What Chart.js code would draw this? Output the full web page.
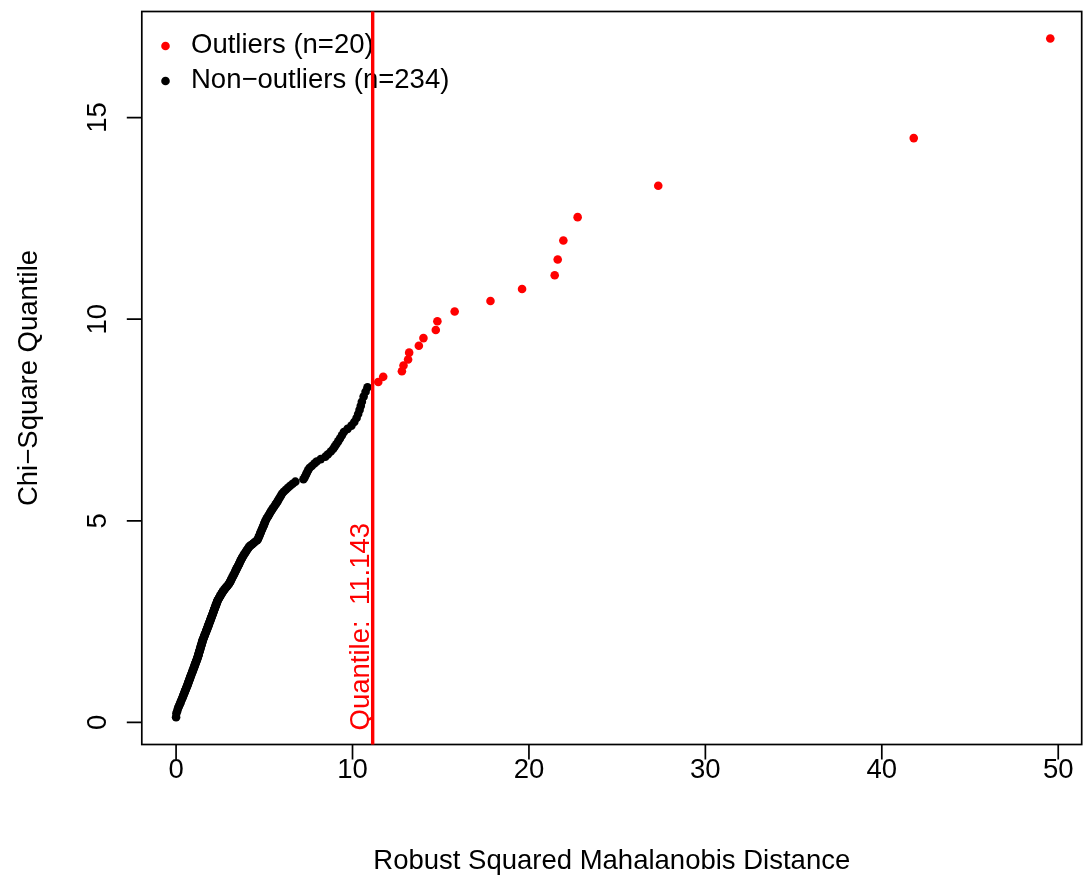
<!DOCTYPE html>
<html><head><meta charset="utf-8">
<script src="https://cdn.jsdelivr.net/npm/chart.js@4"></script>
<style>html,body{margin:0;padding:0;background:#fff;overflow:hidden}canvas{display:block}</style>
</head><body>
<canvas id="c" width="1086" height="879"></canvas>
<script>
// ---- data ----
const nonOutlierX = [
  0.00,0.02,0.07,0.11,0.16,0.21,0.25,
  0.28,0.32,0.36,0.39,0.42,0.45,0.48,0.50,0.53,0.56,0.58,0.60,0.63,0.65,0.67,0.69,
  0.71,0.73,0.76,0.77,0.80,0.81,0.83,0.86,0.87,0.90,0.92,0.93,0.96,0.98,1.00,1.02,1.04,1.06,1.08,1.10,1.12,
  1.14,1.15,1.17,1.20,1.21,1.23,1.24,1.26,1.27,1.28,1.30,1.32,1.33,1.34,1.36,1.37,1.39,1.40,1.42,1.43,1.44,1.46,1.48,
  1.49,1.50,1.52,1.54,1.56,1.58,1.60,1.62,1.63,1.65,1.68,1.70,1.71,1.73,1.75,1.77,1.79,1.81,1.83,1.84,1.86,1.88,1.90,
  1.92,1.94,1.96,1.98,2.00,2.01,2.04,2.06,2.07,2.10,2.11,2.13,2.15,2.17,2.19,2.21,2.23,2.25,2.27,2.28,2.31,2.33,
  2.34,2.36,2.40,2.43,2.47,2.49,2.52,2.56,2.59,2.63,2.66,2.69,2.75,2.78,2.84,2.88,2.91,2.97,3.00,3.04,3.07,
  3.09,3.12,3.16,3.19,3.23,3.25,3.29,3.32,3.35,3.39,3.41,3.44,3.48,3.51,3.55,3.57,3.60,3.63,
  3.67,3.70,3.74,3.77,3.82,3.86,3.91,3.95,4.01,4.06,4.10,4.15,4.23,4.32,4.40,4.48,
  4.60,4.64,4.68,4.71,4.75,4.78,4.81,4.85,4.88,4.92,4.96,4.99,5.02,5.05,
  5.09,5.14,5.20,5.25,5.32,5.37,5.43,5.49,5.55,5.63,5.69,5.75,
  5.80,5.87,5.94,6.00,6.10,6.22,6.34,6.47,6.61,6.76,
  7.22,7.29,7.36,7.41,7.48,7.56,7.69,7.84,7.97,
  8.20,8.46,8.61,8.77,8.90,8.99,9.08,9.19,
  9.29,9.40,9.51,9.72,9.94,10.10,
  10.23,10.32,10.40,10.47,10.53,
  10.63,10.74,10.85
];
const nonOutlierY = [
  0.13,0.23,0.29,0.35,0.40,0.45,0.49,
  0.53,0.57,0.61,0.64,0.68,0.71,0.74,0.77,0.80,0.83,0.86,0.88,0.91,0.93,0.96,0.98,
  1.01,1.03,1.06,1.08,1.11,1.13,1.15,1.18,1.20,1.23,1.25,1.27,1.30,1.32,1.35,1.37,1.39,1.42,1.44,1.47,1.49,
  1.51,1.53,1.55,1.58,1.60,1.62,1.64,1.66,1.68,1.70,1.73,1.75,1.77,1.79,1.81,1.83,1.86,1.88,1.90,1.92,1.94,1.96,1.99,
  2.01,2.03,2.05,2.07,2.10,2.12,2.14,2.16,2.18,2.20,2.23,2.25,2.27,2.29,2.31,2.33,2.36,2.38,2.40,2.42,2.44,2.46,2.49,
  2.51,2.53,2.56,2.58,2.60,2.62,2.65,2.67,2.69,2.72,2.74,2.76,2.78,2.81,2.83,2.85,2.88,2.90,2.92,2.94,2.97,2.99,
  3.01,3.03,3.06,3.08,3.11,3.13,3.15,3.18,3.20,3.23,3.25,3.27,3.30,3.32,3.35,3.37,3.39,3.42,3.44,3.47,3.49,
  3.51,3.54,3.57,3.60,3.63,3.65,3.68,3.71,3.74,3.77,3.79,3.82,3.85,3.88,3.91,3.93,3.96,3.99,
  4.02,4.05,4.08,4.11,4.14,4.17,4.20,4.23,4.27,4.30,4.33,4.36,4.39,4.42,4.45,4.48,
  4.52,4.55,4.59,4.62,4.66,4.70,4.73,4.77,4.80,4.84,4.88,4.91,4.95,4.98,
  5.02,5.06,5.10,5.14,5.19,5.23,5.27,5.31,5.35,5.40,5.44,5.48,
  5.52,5.57,5.62,5.67,5.72,5.77,5.82,5.87,5.92,5.97,
  6.03,6.08,6.14,6.19,6.25,6.31,6.36,6.42,6.47,
  6.53,6.59,6.65,6.72,6.78,6.84,6.90,6.97,
  7.04,7.12,7.20,7.28,7.36,7.45,
  7.55,7.65,7.75,7.85,7.95,
  8.08,8.20,8.31
];
const outlierX = [11.46,11.74,12.80,12.89,13.15,13.21,13.76,14.02,14.72,14.81,15.79,17.82,19.61,21.46,21.63,21.95,22.76,27.33,41.81,49.55];
const outlierY = [8.44,8.57,8.71,8.85,9.00,9.17,9.34,9.53,9.73,9.95,10.19,10.45,10.75,11.09,11.48,11.95,12.53,13.31,14.49,16.96];
const xTicks = [0,10,20,30,40,50];
const yTicks = [0,5,10,15];
const cutoffValue = 11.143;
const cutoffLabel = 'Quantile:  11.143';
const legendLabels = ['Outliers (n=20)', 'Non\u2212outliers (n=234)'];
const legendColors = ['#ff0000', '#000000'];
const xTitle = 'Robust Squared Mahalanobis Distance';
const yTitle = 'Chi\u2212Square Quantile';

const FONT = '27.5px "Liberation Sans", Arial, Helvetica, sans-serif';
const PR = 4.3;
const toPts = (xs, ys) => xs.map((v, i) => ({x: v, y: ys[i]}));

const decor = {
  id: 'decor',
  afterDatasetsDraw(chart) {
    const {ctx, chartArea: a, scales: {x, y}} = chart;
    ctx.save();
    ctx.strokeStyle = '#000'; ctx.lineWidth = 1.7; ctx.lineCap = 'butt';
    ctx.strokeRect(a.left, a.top, a.right - a.left, a.bottom - a.top);
    ctx.beginPath();
    xTicks.forEach(v => { const px = x.getPixelForValue(v); ctx.moveTo(px, a.bottom); ctx.lineTo(px, a.bottom + 15); });
    yTicks.forEach(v => { const py = y.getPixelForValue(v); ctx.moveTo(a.left, py); ctx.lineTo(a.left - 15, py); });
    ctx.stroke();

    ctx.font = FONT; ctx.fillStyle = '#000';
    ctx.textAlign = 'center'; ctx.textBaseline = 'alphabetic';
    xTicks.forEach(v => ctx.fillText(String(v), x.getPixelForValue(v), a.bottom + 33));
    yTicks.forEach(v => {
      ctx.save(); ctx.translate(a.left - 36, y.getPixelForValue(v)); ctx.rotate(-Math.PI / 2);
      ctx.fillText(String(v), 0, 0); ctx.restore();
    });
    ctx.fillText(xTitle, (a.left + a.right) / 2, 869);
    ctx.save(); ctx.translate(37, (a.top + a.bottom) / 2); ctx.rotate(-Math.PI / 2);
    ctx.fillText(yTitle, 0, 0); ctx.restore();

    // legend
    ctx.textAlign = 'left';
    legendLabels.forEach((t, i) => {
      const cy = 46 + i * 35;
      ctx.fillStyle = legendColors[i];
      ctx.beginPath(); ctx.arc(165.5, cy, PR, 0, Math.PI * 2); ctx.fill();
      ctx.fillStyle = '#000';
      ctx.fillText(t, 191, cy + 7);
    });

    // cutoff line + label
    const cx = x.getPixelForValue(cutoffValue);
    ctx.strokeStyle = '#ff0000'; ctx.lineWidth = 3.4;
    ctx.beginPath(); ctx.moveTo(cx, a.top); ctx.lineTo(cx, a.bottom); ctx.stroke();
    ctx.fillStyle = '#ff0000';
    ctx.save(); ctx.translate(cx - 4, y.getPixelForValue(0) + 8); ctx.rotate(-Math.PI / 2);
    ctx.fillText(cutoffLabel, 0, 0); ctx.restore();
    ctx.restore();
  }
};

new Chart(document.getElementById('c'), {
  type: 'scatter',
  data: {
    datasets: [
      {label: legendLabels[1], data: toPts(nonOutlierX, nonOutlierY), backgroundColor: '#000000', borderWidth: 0, pointRadius: PR, pointHoverRadius: PR},
      {label: legendLabels[0], data: toPts(outlierX, outlierY), backgroundColor: '#ff0000', borderWidth: 0, pointRadius: PR, pointHoverRadius: PR}
    ]
  },
  options: {
    responsive: false,
    animation: false,
    events: [],
    layout: {padding: {left: 141.8, top: 11.5, right: 1, bottom: 879 - 744.5}},
    plugins: {legend: {display: false}, tooltip: {enabled: false}},
    scales: {
      x: {type: 'linear', display: false, min: -1.943, max: 51.33},
      y: {type: 'linear', display: false, min: -0.548, max: 17.63}
    }
  },
  plugins: [decor]
});
</script>
</body></html>
